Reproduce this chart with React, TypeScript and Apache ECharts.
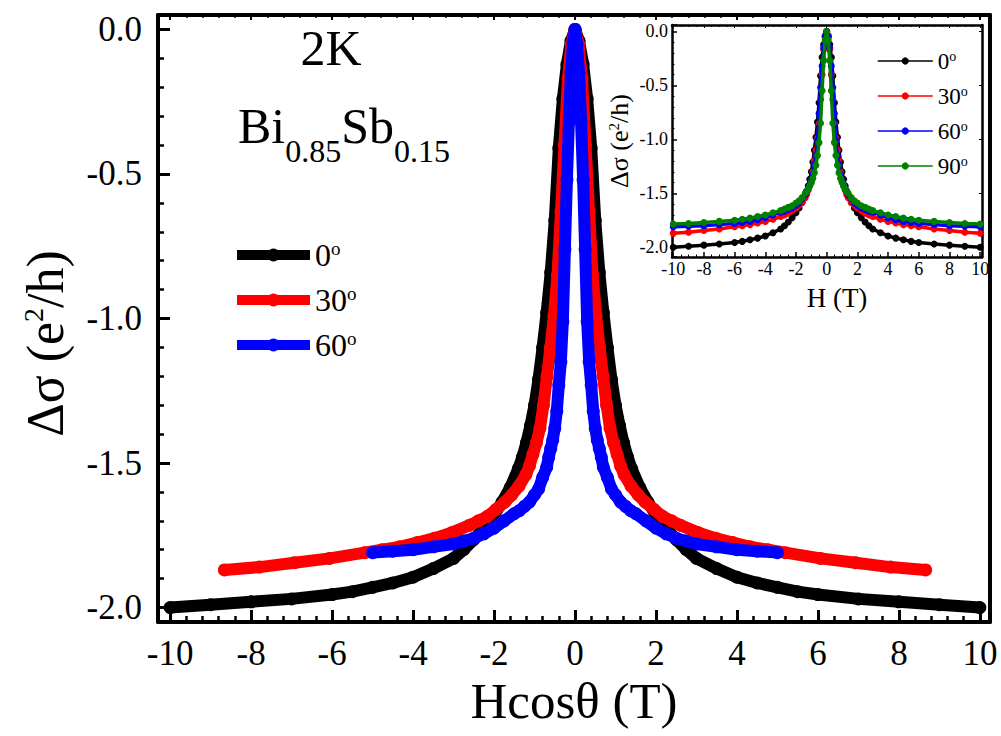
import React, { useEffect, useRef } from "react";
import * as echarts from "echarts";

const FONT = "'Liberation Serif', 'Times New Roman', Times, serif";

// Magnetic field H (T), positive half; curves are symmetric in H
const FIELD_H = [0, 0.1, 0.2, 0.3, 0.4, 0.5, 0.6, 0.7, 0.8, 0.9, 1.0, 1.1, 1.2, 1.3, 1.4, 1.6, 1.8, 2.0, 2.25, 2.5, 2.75, 3.0, 3.5, 4.0, 4.5, 5.0, 5.5, 6.0, 7.0, 8.0, 9.0, 10.0];

// Δσ (e^2/h) for each tilt angle
const DS_0 = [0, -0.04, -0.12, -0.24, -0.41, -0.66, -0.84, -0.98, -1.10, -1.21, -1.30, -1.37, -1.43, -1.48, -1.52, -1.585, -1.635, -1.68, -1.725, -1.765, -1.80, -1.83, -1.865, -1.895, -1.915, -1.93, -1.945, -1.955, -1.97, -1.98, -1.99, -2.0];
const DS_30 = [0, -0.05, -0.17, -0.40, -0.63, -0.85, -0.99, -1.10, -1.20, -1.30, -1.38, -1.43, -1.47, -1.51, -1.54, -1.58, -1.61, -1.635, -1.66, -1.685, -1.70, -1.715, -1.74, -1.76, -1.775, -1.79, -1.80, -1.81, -1.83, -1.845, -1.86, -1.87];
const DS_60 = [0, -0.05, -0.15, -0.32, -0.52, -0.76, -1.01, -1.15, -1.23, -1.32, -1.38, -1.42, -1.45, -1.48, -1.515, -1.55, -1.59, -1.61, -1.635, -1.65, -1.665, -1.675, -1.70, -1.725, -1.745, -1.76, -1.77, -1.78, -1.79, -1.80, -1.805, -1.81];
const DS_90 = [0, -0.08, -0.27, -0.55, -0.85, -1.03, -1.15, -1.24, -1.31, -1.36, -1.40, -1.43, -1.46, -1.48, -1.50, -1.54, -1.57, -1.59, -1.615, -1.63, -1.645, -1.66, -1.68, -1.70, -1.715, -1.73, -1.74, -1.75, -1.76, -1.77, -1.78, -1.785];

const ANGLES = [0, 30, 60, 90];
const SERIES_VALUES = [DS_0, DS_30, DS_60, DS_90];
const COLORS = ["#000000", "#ff0000", "#0000ff", "#008000"];
const MAIN_NAMES = ["0°", "30°", "60°"];
const INSET_NAMES = ["H 0°", "H 30°", "H 60°", "H 90°"];

const MAIN_X_RANGE = [-10.3, 10.25];
const MAIN_Y_RANGE = [-2.05, 0.05];
const INSET_X_RANGE = [-10.08, 10.12];
const INSET_Y_RANGE = [-2.09, 0.06];

function buildPoints(values: number[], factor: number): number[][] {
  const pts: number[][] = [];
  for (let i = FIELD_H.length - 1; i > 0; i--) pts.push([-FIELD_H[i] * factor, values[i]]);
  for (let i = 0; i < FIELD_H.length; i++) pts.push([FIELD_H[i] * factor, values[i]]);
  return pts;
}

const evenLabel = (v: number) => (Math.abs(v / 2 - Math.round(v / 2)) < 1e-6 ? String(Math.round(v)) : "");
const halfLabel = (v: number) => (Math.abs(v * 2 - Math.round(v * 2)) < 1e-6 ? (Math.round(v * 10) / 10).toFixed(1) : "");
const degLabel = (name: string) => `${name.replace(/\D/g, "")}{s|o}`;

function buildOption() {
  const lineAxis = (width: number) => ({ onZero: false, lineStyle: { color: "#000", width } });
  const series: any[] = [];
  for (let i = 0; i < 3; i++) {
    series.push({
      name: MAIN_NAMES[i],
      type: "line",
      xAxisIndex: 0,
      yAxisIndex: 0,
      data: buildPoints(SERIES_VALUES[i], Math.cos((ANGLES[i] * Math.PI) / 180)),
      symbol: "circle",
      symbolSize: 13,
      showAllSymbol: true,
      lineStyle: { width: 12, color: COLORS[i] },
      itemStyle: { color: COLORS[i] },
      z: 2 + i,
    });
  }
  for (let i = 0; i < 4; i++) {
    series.push({
      name: INSET_NAMES[i],
      type: "line",
      xAxisIndex: 2,
      yAxisIndex: 2,
      data: buildPoints(SERIES_VALUES[i], 1),
      symbol: "circle",
      symbolSize: 7,
      showAllSymbol: true,
      lineStyle: { width: 3.5, color: COLORS[i] },
      itemStyle: { color: COLORS[i] },
      z: 10 + i,
    });
  }

  return {
    animation: false,
    backgroundColor: "#ffffff",
    grid: [
      { left: 158, top: 15, right: 11, bottom: 114 },
      { left: 672, top: 25, right: 19, bottom: 479, show: true, backgroundColor: "#ffffff", borderWidth: 0 },
    ],
    legend: [
      {
        data: MAIN_NAMES,
        orient: "vertical",
        left: 227,
        top: 234,
        itemWidth: 73,
        itemHeight: 16,
        itemGap: 13,
        lineStyle: { width: 10 },
        formatter: degLabel,
        textStyle: {
          fontFamily: FONT,
          fontSize: 32,
          lineHeight: 32,
          color: "#000",
          rich: { s: { fontFamily: FONT, fontSize: 19, lineHeight: 19, verticalAlign: "top", color: "#000" } },
        },
      },
      {
        data: INSET_NAMES,
        orient: "vertical",
        left: 872,
        top: 44,
        itemWidth: 55,
        itemHeight: 9,
        itemGap: 11,
        lineStyle: { width: 1.5 },
        formatter: degLabel,
        textStyle: {
          fontFamily: FONT,
          fontSize: 23,
          lineHeight: 24,
          color: "#000",
          rich: { s: { fontFamily: FONT, fontSize: 14, lineHeight: 14, verticalAlign: "top", color: "#000" } },
        },
      },
    ],
    xAxis: [
      {
        type: "value",
        gridIndex: 0,
        position: "bottom",
        min: MAIN_X_RANGE[0],
        max: MAIN_X_RANGE[1],
        splitNumber: 10,
        axisLine: lineAxis(4),
        axisTick: { inside: true, length: 12, lineStyle: { width: 3, color: "#000" } },
        minorTick: { show: true, splitNumber: 5, length: 6, lineStyle: { width: 2.5, color: "#000" } },
        splitLine: { show: false },
        axisLabel: { color: "#000", fontFamily: FONT, fontSize: 35, margin: 14, formatter: evenLabel },
        name: "Hcosθ (T)",
        nameLocation: "middle",
        nameGap: 40,
        nameTextStyle: { fontFamily: FONT, fontSize: 51, color: "#000" },
      },
      {
        type: "value",
        gridIndex: 0,
        position: "top",
        min: MAIN_X_RANGE[0],
        max: MAIN_X_RANGE[1],
        splitNumber: 10,
        axisLine: lineAxis(4),
        axisTick: { inside: true, length: 5, lineStyle: { width: 2, color: "#000" } },
        minorTick: { show: true, splitNumber: 5, length: 3, lineStyle: { width: 1.5, color: "#000" } },
        splitLine: { show: false },
        axisLabel: { show: false },
      },
      {
        type: "value",
        gridIndex: 1,
        position: "bottom",
        min: INSET_X_RANGE[0],
        max: INSET_X_RANGE[1],
        splitNumber: 10,
        axisLine: lineAxis(2.5),
        axisTick: { inside: true, length: 5, lineStyle: { width: 1.5, color: "#000" } },
        minorTick: { show: true, splitNumber: 4, length: 2.5, lineStyle: { width: 1, color: "#000" } },
        splitLine: { show: false },
        axisLabel: { color: "#000", fontFamily: FONT, fontSize: 18, margin: 3, formatter: evenLabel },
        name: "H (T)",
        nameLocation: "middle",
        nameGap: 27,
        nameTextStyle: { fontFamily: FONT, fontSize: 27, color: "#000", padding: [0, 0, 0, 20] },
      },
      {
        type: "value",
        gridIndex: 1,
        position: "top",
        min: INSET_X_RANGE[0],
        max: INSET_X_RANGE[1],
        splitNumber: 10,
        axisLine: lineAxis(2.5),
        axisTick: { inside: true, length: 3, lineStyle: { width: 1, color: "#000" } },
        minorTick: { show: true, splitNumber: 4, length: 2, lineStyle: { width: 1, color: "#000" } },
        splitLine: { show: false },
        axisLabel: { show: false },
      },
    ],
    yAxis: [
      {
        type: "value",
        gridIndex: 0,
        position: "left",
        min: MAIN_Y_RANGE[0],
        max: MAIN_Y_RANGE[1],
        splitNumber: 4,
        axisLine: lineAxis(4),
        axisTick: { inside: true, length: 12, lineStyle: { width: 3, color: "#000" } },
        minorTick: { show: true, splitNumber: 5, length: 6, lineStyle: { width: 2.5, color: "#000" } },
        splitLine: { show: false },
        axisLabel: { color: "#000", fontFamily: FONT, fontSize: 35, margin: 16, formatter: halfLabel },
        name: "Δσ (e{s|2}/h)",
        nameLocation: "middle",
        nameRotate: 90,
        nameGap: 87,
        nameTextStyle: {
          fontFamily: FONT,
          fontSize: 52,
          color: "#000",
          padding: [0, 50, 0, 0],
          rich: { s: { fontFamily: FONT, fontSize: 28, lineHeight: 28, verticalAlign: "top", color: "#000" } },
        },
      },
      {
        type: "value",
        gridIndex: 0,
        position: "right",
        min: MAIN_Y_RANGE[0],
        max: MAIN_Y_RANGE[1],
        splitNumber: 4,
        axisLine: lineAxis(4),
        axisTick: { show: false },
        splitLine: { show: false },
        axisLabel: { show: false },
      },
      {
        type: "value",
        gridIndex: 1,
        position: "left",
        min: INSET_Y_RANGE[0],
        max: INSET_Y_RANGE[1],
        splitNumber: 4,
        axisLine: lineAxis(2.5),
        axisTick: { inside: true, length: 5, lineStyle: { width: 1.5, color: "#000" } },
        minorTick: { show: true, splitNumber: 5, length: 2.5, lineStyle: { width: 1, color: "#000" } },
        splitLine: { show: false },
        axisLabel: { color: "#000", fontFamily: FONT, fontSize: 18, margin: 4, formatter: halfLabel },
        name: "Δσ (e{s|2}/h)",
        nameLocation: "middle",
        nameRotate: 90,
        nameGap: 40,
        nameTextStyle: {
          fontFamily: FONT,
          fontSize: 26,
          color: "#000",
          rich: { s: { fontFamily: FONT, fontSize: 15, lineHeight: 15, verticalAlign: "top", color: "#000" } },
        },
      },
      {
        type: "value",
        gridIndex: 1,
        position: "right",
        min: INSET_Y_RANGE[0],
        max: INSET_Y_RANGE[1],
        splitNumber: 4,
        axisLine: lineAxis(2.5),
        axisTick: { inside: true, length: 3, lineStyle: { width: 1, color: "#000" } },
        splitLine: { show: false },
        axisLabel: { show: false },
      },
    ],
    graphic: [
      {
        type: "text",
        x: 331,
        y: 48,
        style: {
          text: "2K",
          fontFamily: FONT,
          fontSize: 50,
          fill: "#000",
          align: "center",
          textAlign: "center",
          verticalAlign: "middle",
          textVerticalAlign: "middle",
        },
      },
      {
        type: "text",
        x: 238,
        y: 101,
        style: {
          text: "{m|Bi}{s|0.85}{m|Sb}{s|0.15}",
          fill: "#000",
          align: "left",
          textAlign: "left",
          verticalAlign: "top",
          textVerticalAlign: "top",
          rich: {
            m: { fontFamily: FONT, fontSize: 50, lineHeight: 50, verticalAlign: "top", fill: "#000", color: "#000" },
            s: { fontFamily: FONT, fontSize: 32, lineHeight: 32, verticalAlign: "top", padding: [34, 0, 0, 0], fill: "#000", color: "#000" },
          },
        },
      },
    ],
    series,
  };
}

export default function App() {
  const ref = useRef<HTMLDivElement>(null);
  useEffect(() => {
    if (!ref.current) return;
    const chart = echarts.init(ref.current, null, { renderer: "svg" });
    chart.setOption(buildOption() as any);
    return () => chart.dispose();
  }, []);
  return <div ref={ref} style={{ position: "absolute", left: 0, top: 0, width: 1001, height: 736 }} />;
}
